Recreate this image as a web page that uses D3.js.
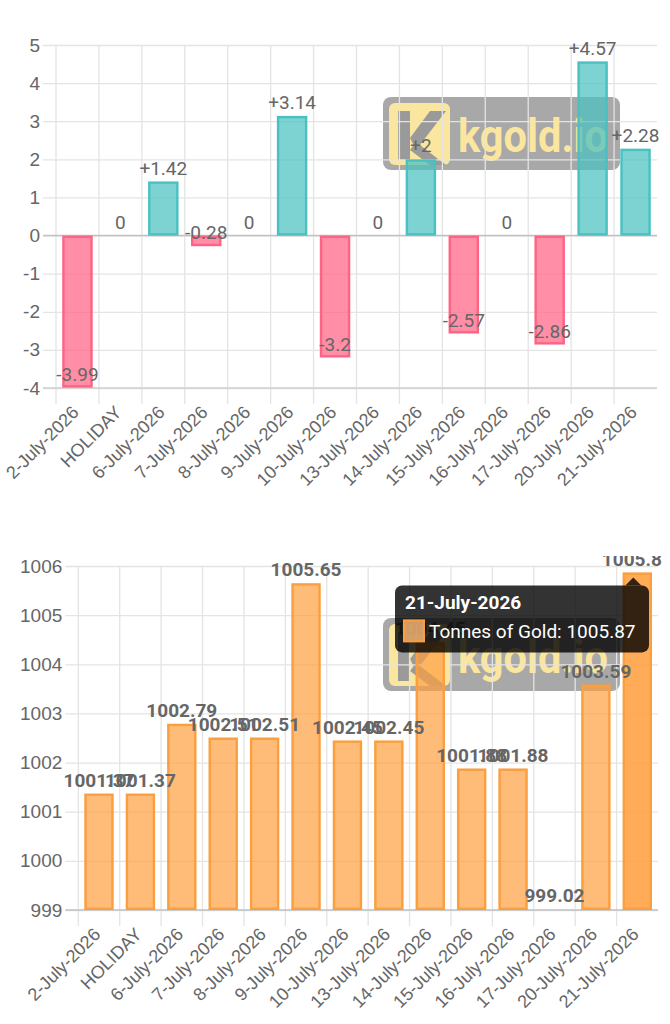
<!DOCTYPE html>
<html>
<head>
<meta charset="utf-8">
<script src="https://cdn.jsdelivr.net/npm/d3@7"></script>
<style>
  body { margin: 0; background: #fff; }
  svg { display: block; font-family: Roboto, "Noto Sans", sans-serif; }
</style>
</head>
<body>
<div class="svg-div"></div>
<script>
// data
var categories = ["2-July-2026", "HOLIDAY", "6-July-2026", "7-July-2026", "8-July-2026",
	"9-July-2026", "10-July-2026", "13-July-2026", "14-July-2026", "15-July-2026",
	"16-July-2026", "17-July-2026", "20-July-2026", "21-July-2026"];
var changeValues = [-3.99, 0, 1.42, -0.28, 0, 3.14, -3.2, 0, 2, -2.57, 0, -2.86, 4.57, 2.28];
var goldValues = [1001.37, 1001.37, 1002.79, 1002.51, 1002.51, 1005.65, 1002.45, 1002.45,
	1004.45, 1001.88, 1001.88, 999.02, 1003.59, 1005.87];
var changeTicks = [-4, -3, -2, -1, 0, 1, 2, 3, 4, 5];
var goldTicks = [999, 1000, 1001, 1002, 1003, 1004, 1005, 1006];
var tooltipTitle = "21-July-2026";
var tooltipLabel = "Tonnes of Gold";

var svg = d3.select(".svg-div")
	.append("svg")
	.attr("width", 670)
	.attr("height", 1024);

// the last gold label is cut by the canvas edge in the original
var defs = svg.append("defs");
defs.append("clipPath").attr("id", "goldClip")
	.append("rect").attr("x", 0).attr("y", 556).attr("width", 662).attr("height", 470);

// watermark (drawn under the bars)
function drawWatermark(dy) {
	var g = svg.append("g").attr("transform", "translate(0," + dy + ")");
	g.append("rect")
		.attr("x", 383).attr("y", 97).attr("width", 237).attr("height", 73)
		.attr("rx", 8).attr("fill", "rgba(110,110,110,0.6)");
	g.append("rect")
		.attr("x", 389).attr("y", 103).attr("width", 61).attr("height", 62)
		.attr("rx", 6).attr("fill", "#fbe6a0");
	// gray K cut out of the logo
	g.append("rect").attr("x", 398).attr("y", 111).attr("width", 12).attr("height", 49)
		.attr("fill", "#9a9a9a");
	g.append("path")
		.attr("d", "M410,138 L430,111 L446,111 L416,150 Z M416,142 L446,165 L430,165 L410,150 Z")
		.attr("fill", "#9a9a9a");
	g.append("text")
		.attr("x", 458).attr("y", 152)
		.attr("textLength", 150).attr("lengthAdjust", "spacingAndGlyphs")
		.attr("font-size", 46).attr("font-weight", "bold")
		.attr("fill", "#fbe6a0")
		.text("kgold.io");
}

function drawGrid(x, y, ticks, left, right, top, bottom, baseValue) {
	// horizontal grid + y tick labels via axis
	var yAxis = svg.append("g")
		.attr("transform", "translate(" + right + ",0)")
		.call(d3.axisLeft(y).tickValues(ticks).tickFormat(String)
			.tickSize(right - left + 13).tickPadding(3));
	yAxis.select(".domain").remove();
	yAxis.selectAll("line").attr("stroke", "#e4e4e4").attr("stroke-width", 1.3);
	yAxis.selectAll("text").attr("font-size", 19).attr("fill", "#666");

	// vertical grid at band edges
	svg.append("g").selectAll("line")
		.data(categories)
		.enter()
		.append("line")
		.attr("x1", function(d) { return x(d); })
		.attr("x2", function(d) { return x(d); })
		.attr("y1", top)
		.attr("y2", bottom + 16)
		.attr("stroke", "#e4e4e4")
		.attr("stroke-width", 1.3);

	// axis lines
	svg.append("line")
		.attr("x1", left - 13).attr("x2", right)
		.attr("y1", y(baseValue)).attr("y2", y(baseValue))
		.attr("stroke", "#c2c2c2").attr("stroke-width", 1.6);
	if (y(baseValue) != bottom) {
		svg.append("line")
			.attr("x1", left - 13).attr("x2", right)
			.attr("y1", bottom).attr("y2", bottom)
			.attr("stroke", "#d0d0d0").attr("stroke-width", 1.4);
	}

	// x labels, rotated
	var xAxis = svg.append("g")
		.attr("transform", "translate(0," + bottom + ")")
		.call(d3.axisBottom(x).tickSize(0));
	xAxis.select(".domain").remove();
	xAxis.selectAll("text")
		.attr("font-size", 18)
		.attr("fill", "#666")
		.attr("text-anchor", "end")
		.attr("x", 0).attr("y", 0).attr("dy", "0.35em")
		.attr("transform", "translate(-2,21) rotate(-45)");
}

// ---------- top chart: daily change ----------
var x1 = d3.scaleBand().domain(categories).range([56, 657]);
var y1 = d3.scaleLinear().domain([-4, 5]).range([388, 45]);

drawWatermark(0);
drawGrid(x1, y1, changeTicks, 56, 657, 45, 388, 0);

var bw1 = x1.bandwidth() * 0.71;
svg.append("g").selectAll("rect")
	.data(changeValues)
	.enter()
	.append("rect")
	.attr("x", function(d, i) { return x1(categories[i]) + (x1.bandwidth() - bw1) / 2 + 1.2; })
	.attr("y", function(d) { return Math.min(y1(d), y1(0)) + 1.2; })
	.attr("width", bw1 - 2.4)
	.attr("height", function(d) { return Math.max(0, Math.abs(y1(d) - y1(0)) - 2.4); })
	.attr("fill", function(d) { return d > 0 ? "rgba(75,192,192,0.72)" : "rgba(255,99,132,0.72)"; })
	.attr("stroke", function(d) { return d > 0 ? "rgb(75,192,192)" : "rgb(255,99,132)"; })
	.attr("stroke-width", function(d) { return d == 0 ? 0 : 2.4; });

svg.append("g").selectAll("text")
	.data(changeValues)
	.enter()
	.append("text")
	.attr("x", function(d, i) { return x1(categories[i]) + x1.bandwidth() / 2; })
	.attr("y", function(d) { return y1(d) - 13.5; })
	.attr("dy", "0.35em")
	.attr("text-anchor", "middle")
	.attr("font-size", 19)
	.attr("fill", "#666")
	.text(function(d) { return d > 0 ? "+" + d : String(d); });

// ---------- bottom chart: tonnes of gold ----------
var x2 = d3.scaleBand().domain(categories).range([78.3, 658]);
var y2 = d3.scaleLinear().domain([999, 1006]).range([910, 566]);

drawWatermark(521);
drawGrid(x2, y2, goldTicks, 78.3, 658, 566, 910, 999);

var bw2 = x2.bandwidth() * 0.71;
var last = goldValues.length - 1;
svg.append("g").selectAll("rect")
	.data(goldValues)
	.enter()
	.append("rect")
	.attr("x", function(d, i) { return x2(categories[i]) + (x2.bandwidth() - bw2) / 2 + 1.2; })
	.attr("y", function(d) { return y2(d) + 1.2; })
	.attr("width", bw2 - 2.4)
	.attr("height", function(d) { return Math.max(0, y2(999) - y2(d) - 2.4); })
	.attr("fill", function(d, i) { return i == last ? "rgba(255,159,64,0.88)" : "rgba(255,159,64,0.7)"; })
	.attr("stroke", "rgb(250,158,62)")
	.attr("stroke-width", 2.4);

svg.append("g")
	.attr("clip-path", "url(#goldClip)")
	.selectAll("text")
	.data(goldValues)
	.enter()
	.append("text")
	.attr("x", function(d, i) { return x2(categories[i]) + x2.bandwidth() / 2; })
	.attr("y", function(d) { return y2(d) - 13.5; })
	.attr("dy", "0.35em")
	.attr("text-anchor", "middle")
	.attr("font-size", 19)
	.attr("font-weight", "bold")
	.attr("fill", "#666")
	.text(function(d) { return String(d); });

// tooltip for the hovered last bar
var tipX = x2(categories[last]) + x2.bandwidth() / 2 - 4;
var tipY = y2(goldValues[last]) + 5;
var tip = svg.append("g");
tip.append("path")
	.attr("d", "M" + tipX + "," + tipY + " L" + (tipX + 8) + "," + (tipY + 8) + " L" + (tipX - 8) + "," + (tipY + 8) + " Z")
	.attr("fill", "rgba(0,0,0,0.8)");
tip.append("rect")
	.attr("x", 395).attr("y", tipY + 8).attr("width", 254).attr("height", 67)
	.attr("rx", 7).attr("fill", "rgba(0,0,0,0.8)");
tip.append("text")
	.attr("x", 405).attr("y", tipY + 32)
	.attr("font-size", 19).attr("font-weight", "bold").attr("fill", "#fff")
	.text(tooltipTitle);
tip.append("rect")
	.attr("x", 404).attr("y", tipY + 43).attr("width", 20).attr("height", 21)
	.attr("fill", "rgba(255,188,121,0.8)")
	.attr("stroke", "rgb(250,158,62)").attr("stroke-width", 2);
tip.append("text")
	.attr("x", 429).attr("y", tipY + 61)
	.attr("font-size", 19).attr("fill", "#fff")
	.text(tooltipLabel + ": " + goldValues[last]);
</script>
</body>
</html>
